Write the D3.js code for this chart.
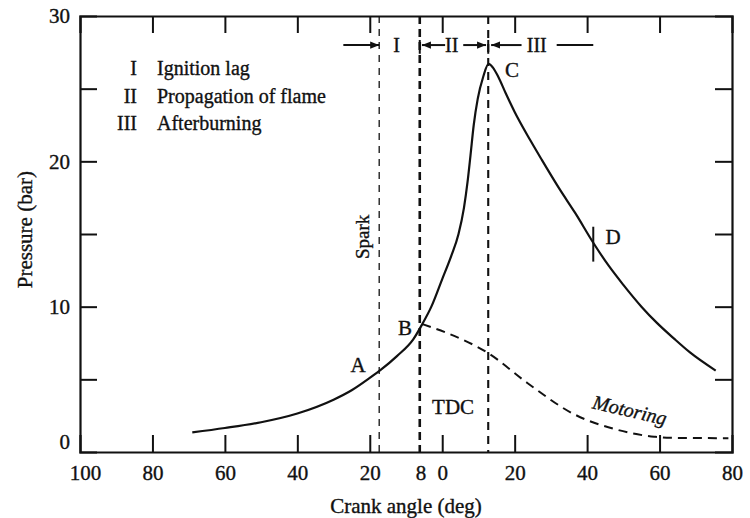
<!DOCTYPE html>
<html>
<head>
<meta charset="utf-8">
<script src="https://cdn.jsdelivr.net/npm/d3@7"></script>
<style>
  body { margin: 0; background: #fff; }
  svg text { font-family: "Liberation Serif", "Times New Roman", Times, "DejaVu Serif", serif !important; fill: #111; stroke: #111; stroke-width: 0.35px; }
</style>
</head>
<body>
<svg id="chart"></svg>
<script>
// pressure trace with combustion (crank angle in deg, negative = before TDC)
const crankAngle = [-69, -60, -50, -40, -30, -25, -20, -17, -12.5, -8, -5.5, -3, 0, 2.5, 4.5, 6, 7, 7.8, 8.7, 9.8, 11.3, 12.8, 14, 15.5, 17.5, 20, 24.2, 27.5, 32.5, 36.7, 41.7, 46, 50, 55, 59.2, 64, 68.4, 75.5];
const pressure   = [1.35, 1.65, 2.05, 2.65, 3.6, 4.25, 5.1, 5.65, 6.6, 7.75, 8.8, 10.0, 11.9, 13.5, 15.0, 16.8, 18.6, 20.4, 22.5, 24.3, 25.8, 26.7, 26.45, 25.8, 24.7, 23.4, 21.5, 20.1, 18.05, 16.45, 14.4, 12.8, 11.5, 10.0, 8.9, 7.8, 6.85, 5.6];

// motoring trace (no combustion)
const motorAngle    = [-5.5, 1.2, 12.7, 23.5, 36.4, 48, 58.5, 62, 79];
const motorPressure = [8.8, 8.2, 6.8, 4.75, 2.6, 1.55, 1.05, 0.98, 0.95];

// vertical markers: spark, TDC line through B, peak C
const markerAngles = [-17.4, -6.2, 12.7];
const markerWidths = [1.3, 2.6, 2.1];
const markerDashes = ["7,6", "8,5", "8,6"];

const xTickValues = [-100, -80, -60, -40, -20, -6, 0, 20, 40, 60, 80];
const xTickLabels = ["100", "80", "60", "40", "20", "8", "0", "20", "40", "60", "80"];
const yTickValues = [0, 5, 10, 15, 20, 25, 30];

const legendNumerals = ["I", "II", "III"];
const legendLabels = ["Ignition lag", "Propagation of flame", "Afterburning"];

const width = 750, height = 518;
const serif = "'Liberation Serif', 'Times New Roman', Times, 'DejaVu Serif', serif";
const svg = d3.select("#chart")
    .attr("width", width).attr("height", height)
    .attr("font-family", serif);

const x = d3.scaleLinear().domain([-100, 80]).range([80, 732]);
const y = d3.scaleLinear().domain([0, 30]).range([452, 16]);

// arrowhead
const defs = svg.append("defs");
defs.append("marker")
    .attr("id", "head")
    .attr("viewBox", "0 0 10 10")
    .attr("refX", 10).attr("refY", 5)
    .attr("markerWidth", 4.5).attr("markerHeight", 4.5)
    .attr("orient", "auto")
  .append("path")
    .attr("d", "M0,1 L10,5 L0,9 Z")
    .attr("fill", "#111");

// axes, ticks pointing inward
const fontSize = 21;
const labelOf = d => xTickLabels[xTickValues.indexOf(d)];

const axisB = svg.append("g")
    .attr("transform", `translate(0,${y(0)})`)
    .call(d3.axisBottom(x).tickValues(xTickValues).tickSize(-17).tickPadding(13).tickFormat(labelOf));
axisB.selectAll(".tick").filter(d => d === -100 || d === 80 || d === -6).select("line").remove();
axisB.selectAll(".tick").filter(d => d === -100).select("text").attr("dx", 5);

const axisT = svg.append("g")
    .attr("transform", `translate(0,${y(30)})`)
    .call(d3.axisTop(x).tickValues(xTickValues.filter(d => d > -100 && d < 80 && d !== -6)).tickSize(-17).tickFormat(""));

const axisL = svg.append("g")
    .attr("transform", `translate(${x(-100)},0)`)
    .call(d3.axisLeft(y).tickValues(yTickValues).tickSize(-17).tickPadding(10).tickFormat(d => d % 10 === 0 ? d : ""));
axisL.selectAll(".tick").filter(d => d === 0 || d === 30).select("line").remove();
axisL.selectAll(".tick").filter(d => d === 0).select("text").attr("dy", "-0.15em");

const axisR = svg.append("g")
    .attr("transform", `translate(${x(80)},0)`)
    .call(d3.axisRight(y).tickValues(yTickValues.filter(d => d > 0 && d < 30)).tickSize(-17).tickFormat(""));

svg.selectAll("g").attr("font-family", serif);
svg.selectAll(".domain").attr("stroke", "#111").attr("stroke-width", 2.2);
svg.selectAll(".tick line").attr("stroke", "#111").attr("stroke-width", 2);
svg.selectAll(".tick text")
    .attr("font-size", fontSize).attr("fill", "#111");

// axis titles
svg.append("text")
    .attr("x", x(-10)).attr("y", 513)
    .attr("text-anchor", "middle")
    .attr("font-size", fontSize)
    .text("Crank angle (deg)");

svg.append("text")
    .attr("transform", `translate(32,${y(15.3)}) rotate(-90)`)
    .attr("text-anchor", "middle")
    .attr("font-size", fontSize)
    .text("Pressure (bar)");

// vertical dashed markers
svg.append("g").selectAll("line")
    .data(markerAngles)
    .join("line")
    .attr("x1", d => x(d)).attr("x2", d => x(d))
    .attr("y1", y(30)).attr("y2", y(0))
    .attr("stroke", "#111")
    .attr("stroke-width", (d, i) => markerWidths[i])
    .attr("stroke-dasharray", (d, i) => markerDashes[i]);

// curves
const line = d3.line().x(d => x(d[0])).y(d => y(d[1])).curve(d3.curveMonotoneX);

svg.append("path")
    .datum(d3.zip(crankAngle, pressure))
    .attr("d", line)
    .attr("fill", "none")
    .attr("stroke", "#111")
    .attr("stroke-width", 2.2);

svg.append("path")
    .datum(d3.zip(motorAngle, motorPressure))
    .attr("d", line)
    .attr("fill", "none")
    .attr("stroke", "#111")
    .attr("stroke-width", 2)
    .attr("stroke-dasharray", "9,6");

// D marker
svg.append("line")
    .attr("x1", x(41.7)).attr("x2", x(41.7))
    .attr("y1", y(15.5)).attr("y2", y(13.1))
    .attr("stroke", "#111").attr("stroke-width", 2);

// point labels
const pointLabels = [
    { t: "A", a: -23.2, p: 6.0 },
    { t: "B", a: -10.3, p: 8.55 },
    { t: "C", a: 19.3, p: 26.3 },
    { t: "D", a: 47.2, p: 14.8 },
    { t: "TDC", a: 3.0, p: 3.1 }
];
svg.append("g").selectAll("text")
    .data(pointLabels)
    .join("text")
    .attr("x", d => x(d.a)).attr("y", d => y(d.p))
    .attr("dy", "0.35em")
    .attr("text-anchor", "middle")
    .attr("font-size", fontSize)
    .text(d => d.t);

svg.append("text")
    .attr("transform", `translate(${x(-22.1)},${y(14.8)}) rotate(-90)`)
    .attr("dy", "0.35em")
    .attr("text-anchor", "middle")
    .attr("font-size", 19)
    .text("Spark");

svg.append("text")
    .attr("transform", `translate(${x(51.8)},${y(2.9)}) rotate(13)`)
    .attr("dy", "0.35em")
    .attr("text-anchor", "middle")
    .attr("font-size", 20)
    .attr("font-style", "italic")
    .text("Motoring");

// phase arrows along the top
const rowP = 28.0;
const arrows = [[-27.3, markerAngles[0]], [0.8, markerAngles[1] + 0.6], [5.8, markerAngles[2] - 0.6], [21.9, markerAngles[2] + 0.8]];
svg.append("g").selectAll("line")
    .data(arrows)
    .join("line")
    .attr("x1", d => x(d[0])).attr("x2", d => x(d[1]))
    .attr("y1", y(rowP)).attr("y2", y(rowP))
    .attr("stroke", "#111").attr("stroke-width", 2)
    .attr("marker-end", "url(#head)");

svg.append("line")
    .attr("x1", x(31.6)).attr("x2", x(41.7))
    .attr("y1", y(rowP)).attr("y2", y(rowP))
    .attr("stroke", "#111").attr("stroke-width", 2);

// small end stops where the arrows meet the B and C lines
svg.append("g").selectAll("line")
    .data([markerAngles[1], markerAngles[2]])
    .join("line")
    .attr("x1", d => x(d)).attr("x2", d => x(d))
    .attr("y1", y(rowP + 0.35)).attr("y2", y(rowP - 0.6))
    .attr("stroke", "#111").attr("stroke-width", 2);

const phaseLabels = [{ t: "I", a: -12.6 }, { t: "II", a: 2.6 }, { t: "III", a: 26.1 }];
svg.append("g").selectAll("text")
    .data(phaseLabels)
    .join("text")
    .attr("x", d => x(d.a)).attr("y", y(rowP))
    .attr("dy", "0.35em")
    .attr("text-anchor", "middle")
    .attr("font-size", 20)
    .text(d => d.t);

// legend
const legend = svg.append("g");
legendNumerals.forEach((n, i) => {
    const yy = 68 + i * 27.7;
    legend.append("text")
        .attr("x", 137).attr("y", yy).attr("dy", "0.35em")
        .attr("text-anchor", "end")
        .attr("font-size", 20)
        .text(n);
    legend.append("text")
        .attr("x", 157).attr("y", yy).attr("dy", "0.35em")
        .attr("font-size", 20)
        .text(legendLabels[i]);
});
</script>
</body>
</html>
